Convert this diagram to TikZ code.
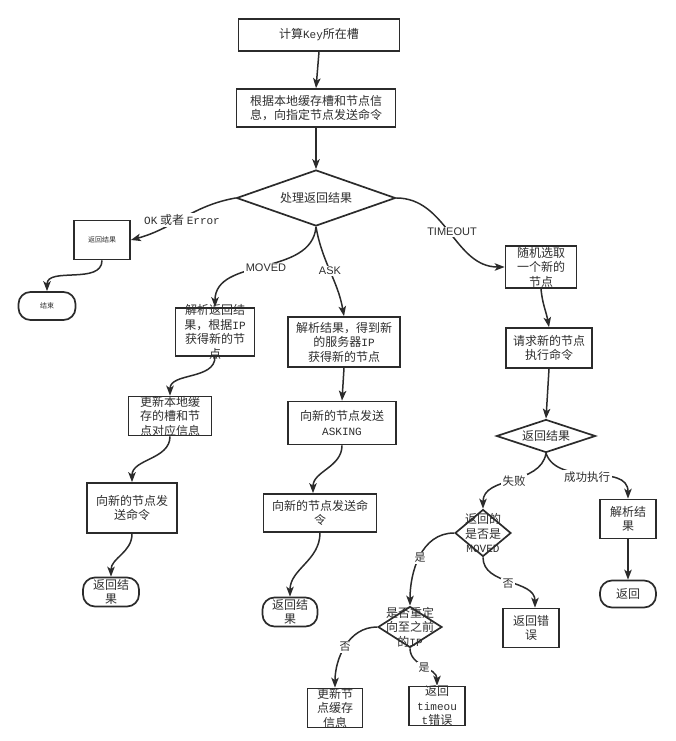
\documentclass[tikz,border=0pt]{standalone}
\usepackage{fontspec}
\setmainfont{Noto Sans CJK SC}
\setmonofont{Liberation Mono}[Scale=0.92]
\newfontfamily\lsans{Liberation Sans}
\usetikzlibrary{shapes.geometric,arrows.meta}
\definecolor{ink}{HTML}{2B2B2B}
\definecolor{txt}{HTML}{2E2E2E}
\newcommand{\fs}[1]{\fontsize{#1}{14.5pt}\selectfont}
\begin{document}
\begin{tikzpicture}[x=1pt,y=-1pt,
  box/.style={draw=ink,line width=1.7pt,rectangle,inner sep=0pt},
  term/.style={box,rounded corners=12pt},
  dia/.style={draw=ink,line width=1.7pt,diamond,inner sep=0pt},
  every label/.style={align=center,text=txt,inner sep=0pt,font=\fs{12pt}},
  conn/.style={draw=ink,line width=1.5pt,-{Stealth[length=10pt,width=7.5pt,inset=2.5pt]}},
  elbl/.style={fill=white,inner sep=1.5pt,text=txt,font=\fs{11.5pt}},
  lat/.style={fill=white,inner sep=1.5pt,text=txt,font=\lsans\fontsize{11pt}{12pt}\selectfont}
]
\useasboundingbox (0,0) rectangle (675,741);

% nodes
\node[box,minimum width=161pt,minimum height=32pt,label={center:{计算\texttt{Key}所在槽}}] (n1) at (319,35) {};
\node[box,minimum width=159pt,minimum height=38pt,label={center:{根据本地缓存槽和节点信\\息，向指定节点发送命令}}] (n2) at (316,108) {};
\node[dia,minimum width=159pt,minimum height=56pt,label={center:{处理返回结果}}] (d1) at (316,198) {};
\node[box,minimum width=56pt,minimum height=39pt,label={[font=\fs{7pt}]center:{返回结果}}] (n4) at (102,240) {};
\node[term,minimum width=57pt,minimum height=28pt,label={[font=\fs{7pt}]center:{结束}}] (n5) at (47,306) {};
\node[box,minimum width=79pt,minimum height=48pt,label={center:{解析返回结\\果，根据\texttt{IP}\\获得新的节\\点}}] (n6) at (215,332) {};
\node[box,minimum width=112pt,minimum height=50pt,label={center:{解析结果，得到新\\的服务器\texttt{IP}\\获得新的节点}}] (n7) at (344,342) {};
\node[box,minimum width=108pt,minimum height=43pt,label={center:{向新的节点发送\\\texttt{ASKING}}}] (n8) at (342,423) {};
\node[box,minimum width=83pt,minimum height=39pt,label={center:{更新本地缓\\存的槽和节\\点对应信息}}] (n9) at (170,416) {};
\node[box,minimum width=90pt,minimum height=50pt,label={center:{向新的节点发\\送命令}}] (n10) at (132,508) {};
\node[term,minimum width=56pt,minimum height=29pt,label={center:{返回结\\果}}] (n11) at (111,592) {};
\node[box,minimum width=113pt,minimum height=38pt,label={center:{向新的节点发送命\\令}}] (n12) at (320,513) {};
\node[term,minimum width=55pt,minimum height=29pt,label={center:{返回结\\果}}] (n13) at (290,612) {};
\node[box,minimum width=71pt,minimum height=42pt,label={center:{随机选取\\一个新的\\节点}}] (n14) at (541,267) {};
\node[box,minimum width=86pt,minimum height=40pt,label={center:{请求新的节点\\执行命令}}] (n15) at (549,348) {};
\node[dia,minimum width=99pt,minimum height=33pt,label={center:{返回结果}}] (d2) at (546,436) {};
\node[dia,minimum width=56pt,minimum height=47pt,label={center:{返回的\\是否是\\\texttt{MOVED}}}] (d3) at (483,533) {};
\node[box,minimum width=56pt,minimum height=39pt,label={center:{返回错\\误}}] (n18) at (531,628) {};
\node[box,minimum width=56pt,minimum height=39pt,label={center:{解析结\\果}}] (n19) at (628,519) {};
\node[term,minimum width=56pt,minimum height=27pt,label={center:{返回}}] (n20) at (628,594) {};
\node[dia,minimum width=64pt,minimum height=41pt,label={center:{是否重定\\向至之前\\的\texttt{IP}}}] (d4) at (410,627) {};
\node[box,minimum width=55pt,minimum height=39pt,label={center:{更新节\\点缓存\\信息}}] (n22) at (335,708) {};
\node[box,minimum width=56pt,minimum height=39pt,label={center:{返回\\\texttt{timeou}\\\texttt{t}错误}}] (n23) at (437,706) {};

% connectors
\draw[conn] (n1.south) -- (n2.north);
\draw[conn] (n2.south) -- (d1.north);
\draw[conn] (d1.west) to[out=190,in=15] (n4.east);
\draw[conn] (n4.south) to[out=-90,in=90] (n5.north);
\draw[conn] (d1.south) to[out=-95,in=90] (n6.north);
\draw[conn] (d1.south) to[out=-80,in=100] (n7.north);
\draw[conn] (d1.east) to[out=0,in=180] (n14.west);
\draw[conn] (n6.south) to[out=-90,in=90] (n9.north);
\draw[conn] (n7.south) -- (n8.north);
\draw[conn] (n9.south) to[out=-90,in=90] (n10.north);
\draw[conn] (n8.south) to[out=-90,in=90] ([xshift=-7pt]n12.north);
\draw[conn] (n10.south) to[out=-90,in=90] (n11.north);
\draw[conn] (n12.south) to[out=-90,in=90] (n13.north);
\draw[conn] (n14.south) to[out=-85,in=100] (n15.north);
\draw[conn] (n15.south) -- (d2.north);
\draw[conn] (d2.south) to[out=-100,in=90] (d3.north);
\draw[conn] (d2.south) to[out=-70,in=90] (n19.north);
\draw[conn] (n19.south) -- (n20.north);
\draw[conn] (d3.west) to[out=180,in=90] (d4.north);
\draw[conn] (d3.south) to[out=-90,in=90] ([xshift=4pt]n18.north);
\draw[conn] (d4.west) to[out=180,in=90] (n22.north);
\draw[conn] (d4.south) to[out=-90,in=90] (n23.north);

% connector labels
\node[elbl,font=\fs{12pt}] (l1) at (182,220) {\texttt{OK} 或者 \texttt{Error}};
\node[lat] (l2) at (266,268) {MOVED};
\node[lat] (l3) at (330,271) {ASK};
\node[lat] (l4) at (452,232) {TIMEOUT};
\node[elbl] (l5) at (514,481) {失败};
\node[elbl] (l6) at (587,477) {成功执行};
\node[elbl,font=\fs{11pt}] (l7) at (420,558) {是};
\node[elbl,font=\fs{11pt}] (l8) at (508,584) {否};
\node[elbl,font=\fs{11pt}] (l9) at (345,647) {否};
\node[elbl,font=\fs{11pt}] (l10) at (424,668) {是};
\end{tikzpicture}
\end{document}
